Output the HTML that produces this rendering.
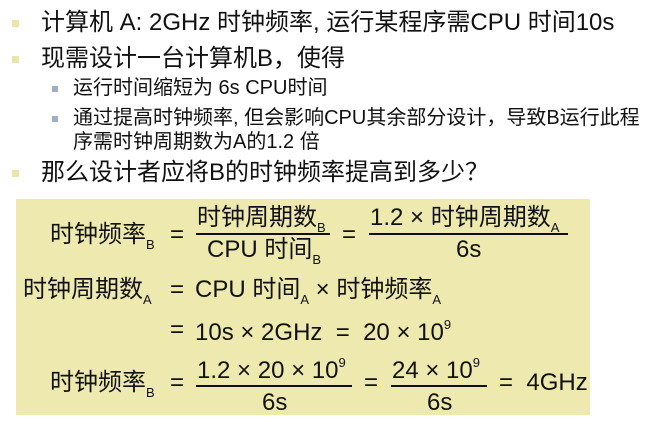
<!DOCTYPE html>
<html><head><meta charset="utf-8"><style>
body{margin:0;width:649px;height:427px;background:#fff;position:relative;overflow:hidden;font-family:"Liberation Sans","Noto Sans CJK SC",sans-serif;color:#111}
.a{position:absolute;white-space:nowrap;line-height:1}
.b1{position:absolute;width:7px;height:7px;background:#e8e6a8}
.b2{position:absolute;width:6px;height:6px;background:#9fb0c4}
.t1{font-size:24px}
.t2{font-size:20px}
.box{position:absolute;left:16px;top:199px;width:574px;height:216px;background:#eeeaaf}
.e{font-size:24px}
sub{font-size:13px;vertical-align:-7px}
sup{font-size:13px;vertical-align:11px}
.bar{position:absolute;height:1.5px;background:#111}
</style></head><body>
<div class="b1" style="left:12px;top:20px"></div>
<div class="a t1" style="left:41px;top:11px">计算机 A: 2GHz 时钟频率, 运行某程序需CPU 时间10s</div>
<div class="b1" style="left:12px;top:56px"></div>
<div class="a t1" style="left:41px;top:47px">现需设计一台计算机B，使得</div>
<div class="b2" style="left:52px;top:86px"></div>
<div class="a t2" style="left:73px;top:78px">运行时间缩短为 6s CPU时间</div>
<div class="b2" style="left:52px;top:116px"></div>
<div class="a t2" style="left:73px;top:108px">通过提高时钟频率, 但会影响CPU其余部分设计，导致B运行此程</div>
<div class="a t2" style="left:73px;top:132px">序需时钟周期数为A的1.2 倍</div>
<div class="b1" style="left:12px;top:170px"></div>
<div class="a t1" style="left:41px;top:161px">那么设计者应将B的时钟频率提高到多少？</div>

<div class="box"></div>
<div class="a e" style="left:50px;top:223px">时钟频率<sub>B</sub></div>
<div class="a e" style="left:170px;top:223px">=</div>
<div class="a e" style="left:197px;top:206px">时钟周期数<sub>B</sub></div>
<div class="bar" style="left:196px;top:233px;width:134px"></div>
<div class="a e" style="left:207px;top:238px">CPU 时间<sub>B</sub></div>
<div class="a e" style="left:342px;top:223px">=</div>
<div class="a e" style="left:370px;top:206px">1.2 × 时钟周期数<sub>A</sub></div>
<div class="bar" style="left:369px;top:233px;width:199px"></div>
<div class="a e" style="left:456px;top:238px">6s</div>

<div class="a e" style="left:23px;top:278px">时钟周期数<sub>A</sub></div>
<div class="a e" style="left:170px;top:278px">=</div>
<div class="a e" style="left:195px;top:278px">CPU 时间<sub>A</sub> × 时钟频率<sub>A</sub></div>

<div class="a e" style="left:170px;top:318px">=</div>
<div class="a e" style="left:195px;top:318px">10s × 2GHz &nbsp;= &nbsp;20 × 10<sup>9</sup></div>

<div class="a e" style="left:50px;top:371px">时钟频率<sub>B</sub></div>
<div class="a e" style="left:170px;top:371px">=</div>
<div class="a e" style="left:197px;top:356px">1.2 × 20 × 10<sup>9</sup></div>
<div class="bar" style="left:196px;top:385px;width:156px"></div>
<div class="a e" style="left:262px;top:391px">6s</div>
<div class="a e" style="left:364px;top:371px">=</div>
<div class="a e" style="left:392px;top:356px">24 × 10<sup>9</sup></div>
<div class="bar" style="left:391px;top:385px;width:96px"></div>
<div class="a e" style="left:427px;top:391px">6s</div>
<div class="a e" style="left:499px;top:371px">= &nbsp;4GHz</div>
</body></html>
